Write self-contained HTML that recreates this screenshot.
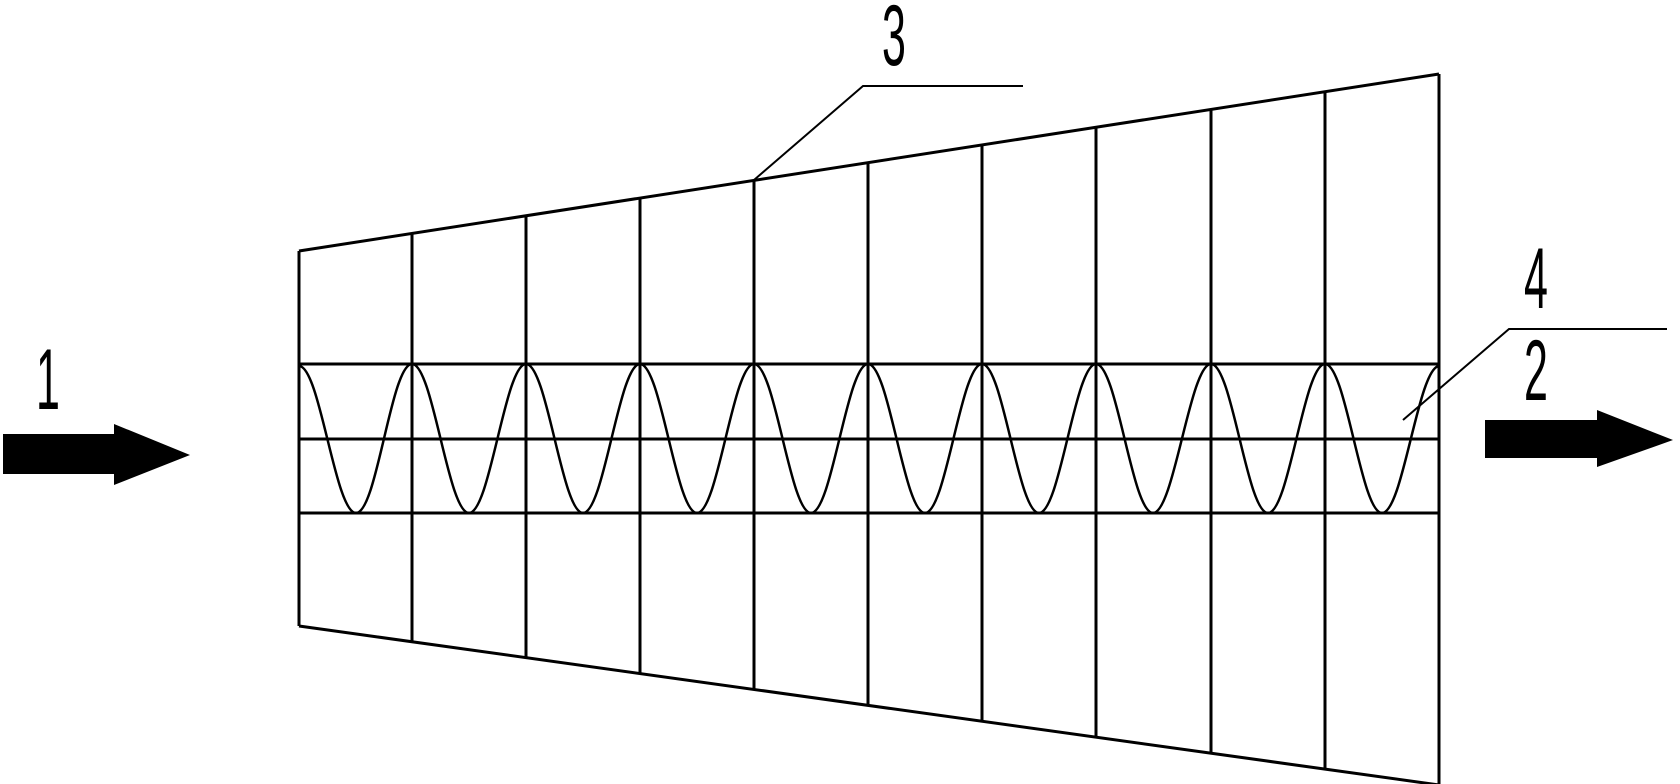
<!DOCTYPE html>
<html><head><meta charset="utf-8"><style>html,body{margin:0;padding:0;background:#fff;}svg{display:block}</style></head>
<body>
<svg width="1680" height="784" viewBox="0 0 1680 784" xmlns="http://www.w3.org/2000/svg">
<g stroke="#000" stroke-width="3" fill="none">
<line x1="299" y1="251" x2="1439" y2="74"/>
<line x1="299" y1="626" x2="1439" y2="785"/>
<line x1="299" y1="251" x2="299" y2="626"/>
<line x1="1439" y1="74" x2="1439" y2="784"/>
<line x1="299" y1="364" x2="1439" y2="364"/>
<line x1="299" y1="439" x2="1439" y2="439"/>
<line x1="299" y1="513" x2="1439" y2="513"/>
<line x1="412" y1="233.5" x2="412" y2="641.7"/>
<line x1="526" y1="215.8" x2="526" y2="657.7"/>
<line x1="640" y1="198.1" x2="640" y2="673.6"/>
<line x1="754" y1="180.4" x2="754" y2="689.5"/>
<line x1="868" y1="162.7" x2="868" y2="705.4"/>
<line x1="982" y1="145" x2="982" y2="721.3"/>
<line x1="1096" y1="127.3" x2="1096" y2="737.2"/>
<line x1="1211" y1="109.5" x2="1211" y2="753.2"/>
<line x1="1325" y1="91.8" x2="1325" y2="769.1"/>
<path stroke-width="2.5" d="M299,366 C320,366 335,513 356,513 C377,513 391,364 412,364 C433,364 448,513 469,513 C490,513 505,364 526,364 C547,364 562,513 583,513 C604,513 619,364 640,364 C661,364 676,513 697,513 C718,513 733,364 754,364 C775,364 790,513 811,513 C832,513 847,364 868,364 C889,364 904,513 925,513 C946,513 961,364 982,364 C1003,364 1018,513 1039,513 C1060,513 1075,364 1096,364 C1117,364 1132,513 1153,513 C1174,513 1190,364 1211,364 C1232,364 1247,513 1268,513 C1289,513 1304,364 1325,364 C1346,364 1361,513 1382,513 C1403,513 1418,368 1439,366"/>
<polyline stroke-width="2" points="754,180 863,86 1023,86"/>
<polyline stroke-width="2" points="1403,420 1509,329 1667,329"/>
</g>
<g fill="#000">
<polygon points="3,434 114,434 114,424 190,455 114,485 114,474 3,474"/>
<polygon points="1485,420 1597,420 1597,410 1673,440 1597,467 1597,458 1485,458"/>
</g>
<g font-family="Liberation Sans, sans-serif" font-size="86" fill="#000">
<text transform="translate(36,409) scale(0.5,1)">1</text>
<text transform="translate(882,65) scale(0.5,1)">3</text>
<text transform="translate(1524,308) scale(0.5,1)">4</text>
<text transform="translate(1524,400) scale(0.5,1)">2</text>
</g>
</svg>
</body></html>
